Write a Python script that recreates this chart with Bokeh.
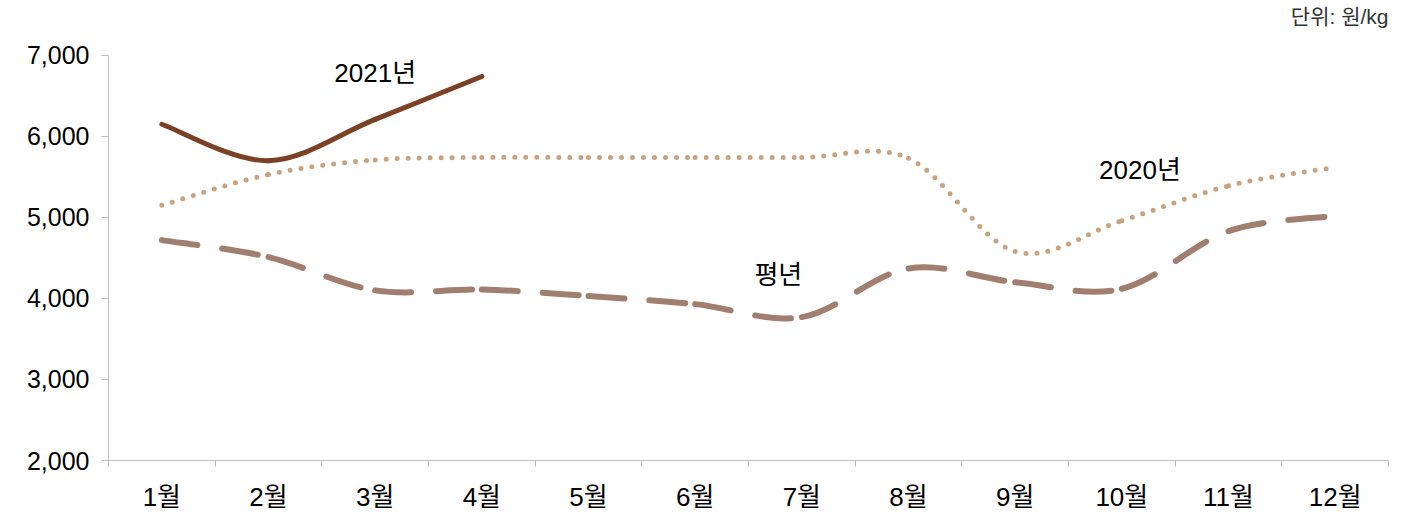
from bokeh.plotting import figure
from bokeh.models import Range1d, FixedTicker, NumeralTickFormatter, ColumnDataSource, Label
from bokeh.embed import file_html
from bokeh.resources import INLINE

months = ["1월", "2월", "3월", "4월", "5월", "6월", "7월", "8월", "9월", "10월", "11월", "12월"]
month_pos = [1, 2, 3, 4, 5, 6, 7, 8, 9, 10, 11, 12]
y2021 = [6150, 5700, 6210, 6740]
y2020 = [5150, 5530, 5710, 5740, 5740, 5740, 5740, 5730, 4580, 4960, 5390, 5620]
ynorm = [4720, 4510, 4100, 4110, 4030, 3930, 3770, 4370, 4200, 4120, 4830, 5020]
y_ticks = [2000, 3000, 4000, 5000, 6000, 7000]

FONT = "Liberation Sans, Noto Sans CJK KR"
AXIS_COLOR = "#BFBFBF"

# layout in pixels: frame runs from the top of the page down to the x axis
H = 514
BOTTOM_BORDER = 53   # room for the month labels below the axis
TOP_PX = 55          # pixel row of the 7,000 tick
frame_h = H - BOTTOM_BORDER
PX_PER_UNIT = (frame_h - TOP_PX) / (y_ticks[-1] - y_ticks[0])
y_start = y_ticks[0]
y_end = y_ticks[-1] + TOP_PX / PX_PER_UNIT


def smooth_source(xs, ys):
    n = len(xs)
    d = dict(x0=[], y0=[], x1=[], y1=[], cx0=[], cy0=[], cx1=[], cy1=[])
    for i in range(n - 1):
        a = max(i - 1, 0)
        b = min(i + 2, n - 1)
        d["x0"].append(xs[i]); d["y0"].append(ys[i])
        d["x1"].append(xs[i + 1]); d["y1"].append(ys[i + 1])
        d["cx0"].append(xs[i] + (xs[i + 1] - xs[a]) / 6)
        d["cy0"].append(ys[i] + (ys[i + 1] - ys[a]) / 6)
        d["cx1"].append(xs[i + 1] - (xs[b] - xs[i]) / 6)
        d["cy1"].append(ys[i + 1] - (ys[b] - ys[i]) / 6)
    return ColumnDataSource(d)


p = figure(width=1400, height=H, x_range=Range1d(0.5, 12.5), y_range=Range1d(y_start, y_end),
           output_backend="svg", toolbar_location=None,
           min_border_left=108, min_border_right=12, min_border_top=0, min_border_bottom=BOTTOM_BORDER)
p.outline_line_color = None
p.xgrid.grid_line_color = None
p.ygrid.grid_line_color = None
p.background_fill_color = "white"

# x axis: labels at month centres, ticks at boundaries
p.xaxis.ticker = FixedTicker(ticks=month_pos, minor_ticks=[m - 0.5 for m in month_pos] + [12.5])
p.xaxis.major_label_overrides = {m: lab for m, lab in zip(month_pos, months)}
p.xaxis.major_tick_in = 0
p.xaxis.major_tick_out = 0
p.xaxis.minor_tick_in = 0
p.xaxis.minor_tick_out = 6
p.xaxis.minor_tick_line_color = AXIS_COLOR
p.xaxis.axis_line_color = AXIS_COLOR
p.xaxis.major_label_standoff = 15
p.xaxis.major_label_text_font = FONT
p.xaxis.major_label_text_font_size = "26px"
p.xaxis.major_label_text_color = "#000000"

p.yaxis.bounds = (y_ticks[0], y_ticks[-1])
p.yaxis.ticker = FixedTicker(ticks=y_ticks)
p.yaxis.formatter = NumeralTickFormatter(format="0,0")
p.yaxis.major_tick_in = 0
p.yaxis.major_tick_out = 7
p.yaxis.major_tick_line_color = AXIS_COLOR
p.yaxis.minor_tick_line_color = None
p.yaxis.axis_line_color = AXIS_COLOR
p.yaxis.major_label_standoff = 12
p.yaxis.major_label_text_font = FONT
p.yaxis.major_label_text_font_size = "25px"
p.yaxis.major_label_text_color = "#000000"

# series
s_norm = smooth_source(month_pos, ynorm)
p.bezier(x0="x0", y0="y0", x1="x1", y1="y1", cx0="cx0", cy0="cy0", cx1="cx1", cy1="cy1",
         source=s_norm, line_color="#A17F70", line_width=6, line_dash="36 25", line_cap="round")
s_2020 = smooth_source(month_pos, y2020)
p.bezier(x0="x0", y0="y0", x1="x1", y1="y1", cx0="cx0", cy0="cy0", cx1="cx1", cy1="cy1",
         source=s_2020, line_color="#C9A37F", line_width=5, line_dash="0 11", line_cap="round")
s_2021 = smooth_source(month_pos[:len(y2021)], y2021)
p.bezier(x0="x0", y0="y0", x1="x1", y1="y1", cx0="cx0", cy0="cy0", cx1="cx1", cy1="cy1",
         source=s_2021, line_color="#7B4127", line_width=5, line_cap="round")

for txt, x, y in [("2021년", 3.0, 6780), ("2020년", 10.17, 5590), ("평년", 6.78, 4290)]:
    p.add_layout(Label(x=x, y=y, text=txt, text_align="center", text_baseline="middle",
                       text_font=FONT, text_font_size="26px", text_color="#000000"))

# unit note above the 7,000 line (baseline ~39 px above it)
p.add_layout(Label(x=12.5, y=y_ticks[-1] + 39 / PX_PER_UNIT, text="단위: 원/kg", text_align="right",
                   text_baseline="alphabetic", text_font=FONT, text_font_size="21px",
                   text_color="#333333"))

open("out.html", "w").write(file_html(p, INLINE))
